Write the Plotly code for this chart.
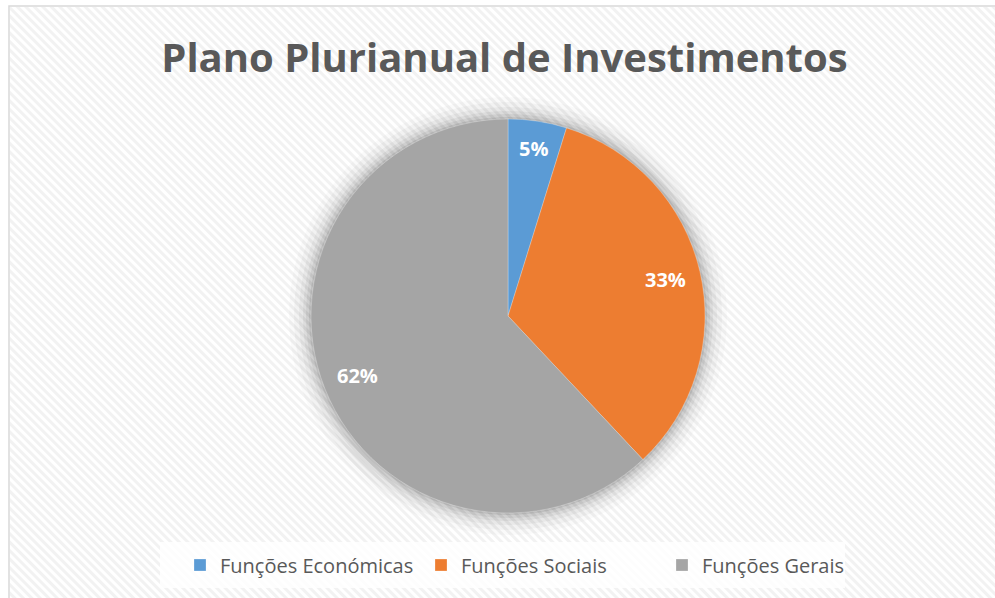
import base64
import math
import plotly.graph_objects as go

title_text = "Plano Plurianual de Investimentos"
categories = ["Funções Económicas", "Funções Sociais", "Funções Gerais"]
values = [4.8, 33.2, 62.0]
colors = ["#5B9BD5", "#ED7D31", "#A5A5A5"]

W, H = 995, 598

# diagonal stripe background as inline SVG
svg = f'''<svg xmlns="http://www.w3.org/2000/svg" width="{W}" height="{H}" viewBox="0 0 {W} {H}">
<defs><pattern id="p" width="6" height="6" patternUnits="userSpaceOnUse" patternTransform="rotate(-45)">
<rect width="6" height="6" fill="#ffffff"/><rect width="3" height="6" fill="#f2f2f2"/></pattern></defs>
<rect x="0" y="0" width="{W}" height="{H}" fill="#ffffff"/>
<rect x="10" y="7" width="{W-10}" height="{H-7}" fill="url(#p)"/>
<rect x="9" y="6" width="{W}" height="{H}" fill="none" stroke="#d9d9d9" stroke-width="1.5"/>
</svg>'''
src = "data:image/svg+xml;base64," + base64.b64encode(svg.encode()).decode()

cx, cy, R = 508, 316, 197
dom_x = [(cx - R) / W, (cx + R) / W]
dom_y = [(H - cy - R) / H, (H - cy + R) / H]

fig = go.Figure()
fig.add_trace(go.Pie(
    labels=categories, values=values, sort=False, direction="clockwise", rotation=0,
    marker=dict(colors=colors, line=dict(color="rgba(255,255,255,0.5)", width=0.5)),
    textinfo="none", domain=dict(x=dom_x, y=dom_y), hoverinfo="label+percent",
))

# data labels placed at the slice mid-angle (derived from values)
total = sum(values)
annotations = []
cum = 0.0
for v in values:
    mid = (cum + v / 2) / total * 2 * math.pi
    cum += v
    r = (0.86 if v / total < 0.1 else 0.82) * R
    px = cx + r * math.sin(mid)
    py = cy - r * math.cos(mid)
    annotations.append(dict(text=f"{round(v / total * 100)}%", x=px / W, y=(H - py) / H,
                            xref="paper", yref="paper", showarrow=False,
                            xanchor="center", yanchor="middle",
                            font=dict(family="Open Sans", size=20, color="white", weight="bold")))

shapes = []
for pad, op in [(22, 0.02), (17, 0.03), (12, 0.04), (8, 0.05), (5, 0.06), (2, 0.08)]:
    rr = R + pad
    shapes.append(dict(type="circle", xref="paper", yref="paper", layer="below",
                       x0=(cx - rr) / W, x1=(cx + rr) / W,
                       y0=(H - cy - rr) / H, y1=(H - cy + rr) / H,
                       fillcolor=f"rgba(0,0,0,{op})", line=dict(width=0)))
# legend backdrop
shapes.append(dict(type="rect", xref="paper", yref="paper", layer="below",
                   x0=160 / W, x1=845 / W, y0=(H - 588) / H, y1=(H - 542) / H,
                   fillcolor="rgba(255,255,255,0.8)", line=dict(width=0)))

fig.update_layout(
    width=W, height=H, margin=dict(l=0, r=0, t=0, b=0),
    paper_bgcolor="white", plot_bgcolor="white",
    images=[dict(source=src, xref="paper", yref="paper", x=0, y=1, sizex=1, sizey=1,
                 xanchor="left", yanchor="top", sizing="stretch", layer="below")],
    shapes=shapes,
    annotations=annotations,
    title=dict(text=title_text, x=0.507, xanchor="center", y=1 - 58 / H, yanchor="middle",
               font=dict(family="Open Sans", size=40, color="#595959", weight="bold")),
    legend=dict(orientation="h", x=180 / W, xanchor="left", y=(H - 565) / H, yanchor="middle",
                bgcolor="rgba(0,0,0,0)", borderwidth=0,
                font=dict(family="Open Sans", size=20, color="#595959"),
                itemwidth=30, traceorder="normal", entrywidth=196),
    showlegend=True,
)

fig.write_html("out.html", config={"displayModeBar": False},
               post_script="document.body.style.margin='0';")
